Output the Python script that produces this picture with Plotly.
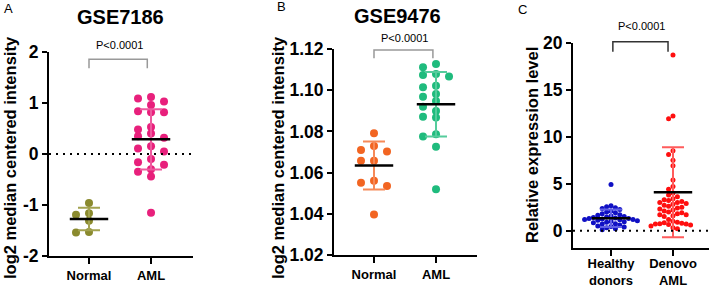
import plotly.graph_objects as go

# ---------------- data ----------------
gse7186_categories = ["Normal", "AML"]
gse7186_normal = [-0.96, -1.19, -1.16, -1.31, -1.54, -1.53]
gse7186_aml = [1.09, 0.96, 0.82, 0.48, 0.35, 0.15, -0.16, -0.30,
               1.03, 0.84, 0.40, 0.05, -0.10, -0.44, -1.15,
               1.12, 0.82, 0.53, 0.32, 0.11, -0.21, -0.35]
gse7186_mean = [-1.276, 0.288]
gse7186_sd = [0.22, 0.59]
gse7186_yticks = [-2, -1, 0, 1, 2]
gse7186_yticklabels = ["-2", "-1", "0", "1", "2"]

gse9476_categories = ["Normal", "AML"]
gse9476_normal = [1.0791, 1.0729, 1.0703, 1.0710, 1.0658, 1.0658,
                  1.0561, 1.0551, 1.0535, 1.0396]
gse9476_aml = [1.1127, 1.1066, 1.1022, 1.0867, 1.0786, 1.0726, 1.0519,
               1.1074, 1.0982, 1.0948, 1.0899, 1.0775,
               1.1111, 1.1079, 1.1014, 1.0968, 1.0920, 1.0871]
gse9476_mean = [1.0634, 1.0932]
gse9476_sd = [0.01165, 0.01565]
gse9476_yticks = [1.02, 1.04, 1.06, 1.08, 1.10, 1.12]
gse9476_yticklabels = ["1.02", "1.04", "1.06", "1.08", "1.10", "1.12"]

qpcr_categories = ["Healthy<br>donors", "Denovo<br>AML"]
qpcr_healthy = [4.9, 2.65, 2.55, 2.45, 2.35, 2.25, 2.1, 2.0, 1.9, 1.8,
                1.7, 1.65, 1.55, 1.5, 1.45, 1.4, 1.35, 1.3, 1.3, 1.25,
                1.2, 1.2, 1.15, 1.1, 1.05, 1.0, 0.95, 0.9, 0.85, 0.75,
                0.7, 0.6, 0.5, 0.45, 0.4, 0.3, 0.2, 0.1]
qpcr_denovo = [18.7, 12.2, 11.9, 8.5, 8.1, 7.5, 6.9, 5.4, 4.7, 4.4,
               4.0, 3.8, 3.6, 3.4, 3.3, 3.2, 3.1, 3.0, 3.0, 2.9,
               2.8, 2.7, 2.6, 2.5, 2.4, 2.3, 2.2, 2.1, 2.0, 1.9,
               1.8, 1.7, 1.7, 1.6, 1.5, 1.2, 1.0, 0.9, 0.85, 0.8,
               0.75, 0.7, 0.7, 0.65, 0.6, 0.5, 0.3, 0.2]
qpcr_mean = [1.32, 4.09]
qpcr_sd = [0.92, 4.79]
qpcr_yticks = [0, 5, 10, 15, 20]
qpcr_yticklabels = ["0", "5", "10", "15", "20"]

p_value_text = "P&lt;0.0001"
titles = ["GSE7186", "GSE9476", ""]
panel_letters = ["A", "B", "C"]
y_titles = ["log2 median centered intensity", "log2 median centered intensity",
            "Relative expression level"]

# ---------------- layout helpers ----------------
W, H = 709, 288
FONT = "Liberation Sans, Arial, sans-serif"


def px_x(p):
    return p / W


def px_y(p):
    return (H - p) / H


def swarm_offsets(values, px_per_unit, step_px, min_px, px_per_cat):
    """Deterministic column beeswarm: returns x-offsets in category units."""
    order = sorted(range(len(values)), key=lambda i: -values[i])
    cols = {}
    offs = [0.0] * len(values)
    cand = [0]
    for k in range(1, 40):
        cand += [-k, k]
    for i in order:
        yp = values[i] * px_per_unit
        chosen = 0
        for c in cand:
            if all(abs(yp - q) >= min_px for q in cols.get(c, [])):
                chosen = c
                break
        cols.setdefault(chosen, []).append(yp)
        offs[i] = chosen * step_px / px_per_cat
    return offs


panels = [
    dict(cats=gse7186_categories, groups=[gse7186_normal, gse7186_aml],
         mean=gse7186_mean, sd=gse7186_sd,
         yticks=gse7186_yticks, yticklabels=gse7186_yticklabels,
         xpx=(49, 193), ypx=(52, 256), xr=[-0.645, 1.677], yr=[-2, 2],
         colors=["#8a8a2e", "#e8207c"], ecolors=["#a3a350", "#ee5a9e"],
         msize=8, step=13, mind=6.5, zero=True, xstand=None, xtl=6,
         bracket=(0.0, 0.94, 59.3, 68.3, "#999999"), ptext=(120, 45),
         title=(120.5, 17.5), letter=(8, 8), ytitle=(10, 158)),
    dict(cats=gse9476_categories, groups=[gse9476_normal, gse9476_aml],
         mean=gse9476_mean, sd=gse9476_sd,
         yticks=gse9476_yticks, yticklabels=gse9476_yticklabels,
         xpx=(334, 477), ypx=(49, 255), xr=[-0.645, 1.661], yr=[1.02, 1.12],
         colors=["#f26522", "#1fbb7d"], ecolors=["#f68a58", "#55cc9c"],
         msize=8, step=13, mind=6.5, zero=False, xstand=None, xtl=6,
         bracket=(0.0, 0.95, 50, 58.3, "#999999"), ptext=(404, 37.5),
         title=(397.8, 15.8), letter=(281, 6), ytitle=(278, 158)),
    dict(cats=qpcr_categories, groups=[qpcr_healthy, qpcr_denovo],
         mean=qpcr_mean, sd=qpcr_sd,
         yticks=qpcr_yticks, yticklabels=qpcr_yticklabels,
         xpx=(573, 709), ypx=(42.7, 248.3), xr=[-0.613, 1.581], yr=[-1.875, 20],
         colors=["#1010c4", "#ff0f0f"], ecolors=["#6060e6", "#ff5c5c"],
         msize=5, step=4.4, mind=5.0, zero=True, xstand=-4, xtl=6,
         bracket=(0.03, 0.92, 41.7, 51.7, "#333333"), ptext=(641, 26),
         title=None, letter=(522, 10), ytitle=(532, 145)),
]

fig = go.Figure()
annotations = []
shapes = []

for pi, P in enumerate(panels):
    ax = "" if pi == 0 else str(pi + 1)
    xa, ya = "x" + ax, "y" + ax
    xdom = [px_x(P["xpx"][0]), px_x(P["xpx"][1])]
    ydom = [px_y(P["ypx"][1]), px_y(P["ypx"][0])]
    px_per_unit = (P["ypx"][1] - P["ypx"][0]) / (P["yr"][1] - P["yr"][0])
    px_per_cat = (P["xpx"][1] - P["xpx"][0]) / (P["xr"][1] - P["xr"][0])

    # points
    for gi, vals in enumerate(P["groups"]):
        offs = swarm_offsets(vals, px_per_unit, P["step"], P["mind"], px_per_cat)
        fig.add_trace(go.Scatter(
            x=[gi + o for o in offs], y=vals, mode="markers",
            marker=dict(size=P["msize"], color=P["colors"][gi], line=dict(width=0)),
            xaxis=xa, yaxis=ya, showlegend=False, hoverinfo="skip"))
    # error bars (SD)
    for gi in range(len(P["groups"])):
        fig.add_trace(go.Scatter(
            x=[gi], y=[P["mean"][gi]], mode="markers",
            marker=dict(size=1, color="rgba(0,0,0,0)"),
            error_y=dict(type="data", array=[P["sd"][gi]], symmetric=True,
                         width=11, thickness=2, color=P["ecolors"][gi]),
            xaxis=xa, yaxis=ya, showlegend=False, hoverinfo="skip"))
    # mean lines
    for gi in range(len(P["groups"])):
        fig.add_trace(go.Scatter(
            x=[gi - 0.31, gi + 0.31], y=[P["mean"][gi]] * 2, mode="lines",
            line=dict(color="black", width=2.5),
            xaxis=xa, yaxis=ya, showlegend=False, hoverinfo="skip"))

    xaxis_cfg = dict(
        domain=xdom, range=P["xr"], anchor=ya, automargin=False,
        tickvals=list(range(len(P["cats"]))), ticktext=P["cats"],
        showline=True, linecolor="black", linewidth=2,
        ticks="outside", ticklen=P["xtl"], tickwidth=2, tickcolor="black",
        showgrid=False, zeroline=False,
        tickfont=dict(family=FONT, size=13, color="black", weight="bold"))
    if P["xstand"] is not None:
        xaxis_cfg["ticklabelstandoff"] = P["xstand"]
    fig.update_layout(**{
        ("xaxis" + ax): xaxis_cfg,
        ("yaxis" + ax): dict(
            domain=ydom, range=P["yr"], anchor=xa, automargin=False,
            tickvals=P["yticks"], ticktext=P["yticklabels"],
            showline=True, linecolor="black", linewidth=2,
            ticks="outside", ticklen=5, tickwidth=2, tickcolor="black",
            showgrid=False, zeroline=False,
            tickfont=dict(family=FONT, size=17.5, color="black", weight="bold")),
    })

    if P["zero"]:
        shapes.append(dict(type="line", xref=xa + " domain", yref=ya,
                           x0=0, x1=1, y0=0, y1=0,
                           line=dict(color="black", width=2, dash="2px,5px")))

    # significance bracket
    bx0, bx1, btop, bleg, bcol = P["bracket"]
    to_px = lambda c: P["xpx"][0] + (c - P["xr"][0]) * px_per_cat
    xl, xr_ = px_x(to_px(bx0)), px_x(to_px(bx1))
    yt, yl = px_y(btop), px_y(bleg)
    shapes.append(dict(type="path", xref="paper", yref="paper",
                       path=f"M {xl},{yl} L {xl},{yt} L {xr_},{yt} L {xr_},{yl}",
                       line=dict(color=bcol, width=1.5)))
    annotations.append(dict(text=p_value_text, xref="paper", yref="paper",
                            x=px_x(P["ptext"][0]), y=px_y(P["ptext"][1]),
                            xanchor="center", yanchor="middle", showarrow=False,
                            font=dict(family=FONT, size=11, color="black")))
    if P["title"]:
        annotations.append(dict(text=titles[pi], xref="paper", yref="paper",
                                x=px_x(P["title"][0]), y=px_y(P["title"][1]),
                                xanchor="center", yanchor="middle", showarrow=False,
                                font=dict(family=FONT, size=20, color="black",
                                          weight="bold")))
    annotations.append(dict(text=panel_letters[pi], xref="paper", yref="paper",
                            x=px_x(P["letter"][0]), y=px_y(P["letter"][1]),
                            xanchor="center", yanchor="middle", showarrow=False,
                            font=dict(family=FONT, size=13, color="black")))
    annotations.append(dict(text=y_titles[pi], xref="paper", yref="paper",
                            x=px_x(P["ytitle"][0]), y=px_y(P["ytitle"][1]),
                            xanchor="center", yanchor="middle", showarrow=False,
                            textangle=-90,
                            font=dict(family=FONT, size=16.5, color="black",
                                      weight="bold")))

fig.update_layout(width=W, height=H, margin=dict(l=0, r=0, t=0, b=0),
                  paper_bgcolor="white", plot_bgcolor="white",
                  shapes=shapes, annotations=annotations, showlegend=False)

fig.write_html("out.html", include_plotlyjs=True, full_html=True,
               config={"displayModeBar": False},
               post_script="document.body.style.margin='0';document.body.style.padding='0';document.documentElement.style.margin='0';")
